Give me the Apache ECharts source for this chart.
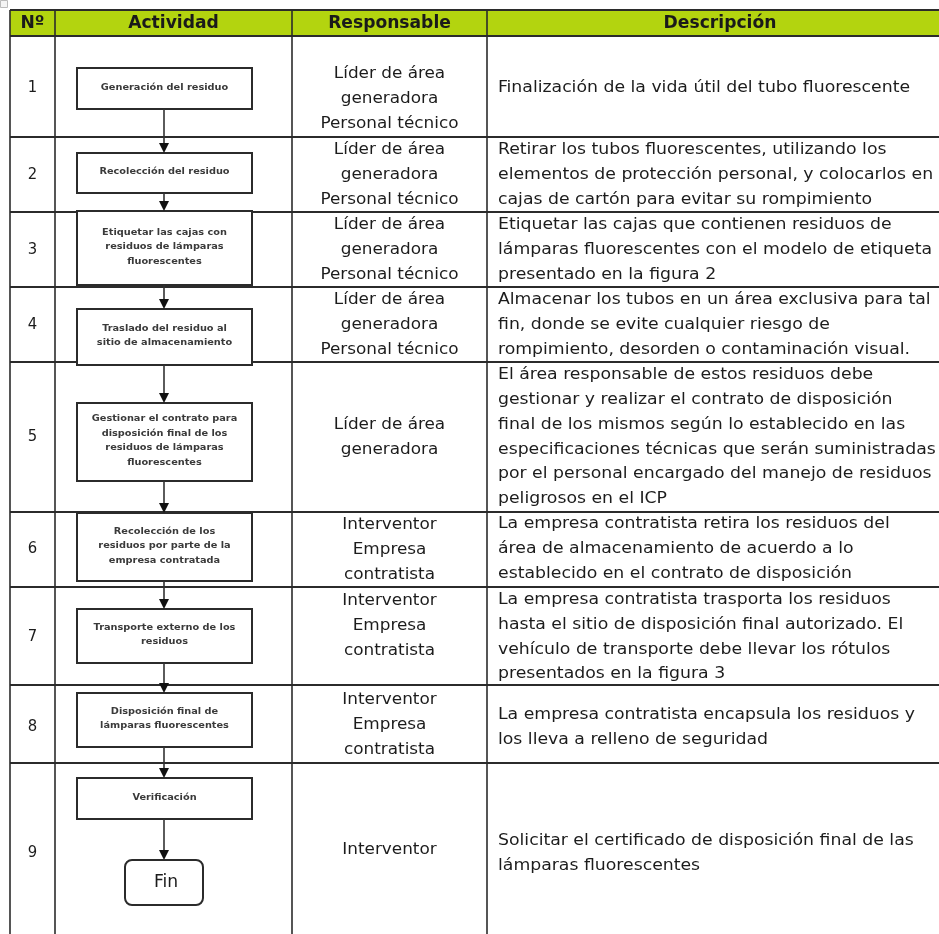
<!DOCTYPE html>
<html><head><meta charset="utf-8">
<script src="https://cdn.jsdelivr.net/npm/echarts@6/dist/echarts.min.js"></script>
<style>html,body{margin:0;padding:0;background:#fff}#c{width:939px;height:934px}</style>
</head><body><div id="c"></div>
<script>
// ---- data ----
const headers = ['Nº', 'Actividad', 'Responsable', 'Descripción'];
const numbers = ['1','2','3','4','5','6','7','8','9'];
const activities = [
  'Generación del residuo',
  'Recolección del residuo',
  'Etiquetar las cajas con\nresiduos de lámparas\nfluorescentes',
  'Traslado del residuo al\nsitio de almacenamiento',
  'Gestionar el contrato para\ndisposición final de los\nresiduos de lámparas\nfluorescentes',
  'Recolección de los\nresiduos por parte de la\nempresa contratada',
  'Transporte externo de los\nresiduos',
  'Disposición final de\nlámparas fluorescentes',
  'Verificación'
];
const endLabel = 'Fin';
const responsables = [
  'Líder de área\ngeneradora\nPersonal técnico',
  'Líder de área\ngeneradora\nPersonal técnico',
  'Líder de área\ngeneradora\nPersonal técnico',
  'Líder de área\ngeneradora\nPersonal técnico',
  'Líder de área\ngeneradora',
  'Interventor\nEmpresa\ncontratista',
  'Interventor\nEmpresa\ncontratista',
  'Interventor\nEmpresa\ncontratista',
  'Interventor'
];
const descriptions = [
  'Finalización de la vida útil del tubo fluorescente',
  'Retirar los tubos fluorescentes, utilizando los\nelementos de protección personal, y colocarlos en\ncajas de cartón para evitar su rompimiento',
  'Etiquetar las cajas que contienen residuos de\nlámparas fluorescentes con el modelo de etiqueta\npresentado en la figura 2',
  'Almacenar los tubos en un área exclusiva para tal\nfin, donde se evite cualquier riesgo de\nrompimiento, desorden o contaminación visual.',
  'El área responsable de estos residuos debe\ngestionar y realizar el contrato de disposición\nfinal de los mismos según lo establecido en las\nespecificaciones técnicas que serán suministradas\npor el personal encargado del manejo de residuos\npeligrosos en el ICP',
  'La empresa contratista retira los residuos del\nárea de almacenamiento de acuerdo a lo\nestablecido en el contrato de disposición',
  'La empresa contratista trasporta los residuos\nhasta el sitio de disposición final autorizado. El\nvehículo de transporte debe llevar los rótulos\npresentados en la figura 3',
  'La empresa contratista encapsula los residuos y\nlos lleva a relleno de seguridad',
  'Solicitar el certificado de disposición final de las\nlámparas fluorescentes'
];

// ---- layout ----
const colX = [10, 55, 292, 487, 953];
const rowY = [10, 36, 137, 212, 287, 362, 512, 587, 685, 763, 942];
const respCY = [99, 175, 250, 325, 437, 550, 626, 725, 850];
const descCY = [88, 175, 250, 325, 437, 549, 637, 727, 853];
const boxX = [77, 252];
const boxY = [[68,109],[153,193],[211,285],[309,365],[403,481],[513,581],[609,663],[693,747],[778,819]];
const finBox = [125, 860, 203, 905];
const arrowX = 164;

const FONT = "'DejaVu Sans Condensed','DejaVu Sans',Verdana,sans-serif";
const LINE = '#2b2b2b';
const TXT = '#1c1c1c';
const G = [];

function txt(x, y, sx, style, z){
  G.push({type:'text', z:z||5, x:x, y:y, scaleX:sx, style:Object.assign({x:0, y:0, fontFamily:FONT, fill:TXT, verticalAlign:'middle'}, style)});
}

// header background
G.push({type:'rect', shape:{x:colX[0], y:rowY[0], width:940-colX[0], height:rowY[1]-rowY[0]}, style:{fill:'#b3d40f'}, z:1});
for (let c=0;c<4;c++){
  txt((colX[c]+colX[c+1])/2, (rowY[0]+rowY[1])/2+1, 1.12, {text:headers[c], fill:'#1a1a1a', fontWeight:'bold', fontSize:17, align:'center'});
}
// horizontal lines
for (let r=0;r<rowY.length-1;r++){
  G.push({type:'line', z:4, shape:{x1:colX[0], y1:rowY[r], x2:940, y2:rowY[r]}, style:{stroke:LINE, lineWidth:2}});
}
// vertical lines
for (let c=0;c<4;c++){
  G.push({type:'line', z:4, shape:{x1:colX[c], y1:rowY[0], x2:colX[c], y2:934}, style:{stroke:LINE, lineWidth:1.6}});
}
// rows
for (let i=0;i<numbers.length;i++){
  txt((colX[0]+colX[1])/2, descCY[i], 1.1, {text:numbers[i], fontSize:15, align:'center'});
  txt((colX[2]+colX[3])/2, respCY[i], 1.17, {text:responsables[i], fontSize:16, lineHeight:25, align:'center'});
  txt(colX[3]+11, descCY[i], 1.2, {text:descriptions[i], fontSize:16, lineHeight:24.7, align:'left'});
  const b = boxY[i];
  G.push({type:'rect', z:5, shape:{x:boxX[0], y:b[0], width:boxX[1]-boxX[0], height:b[1]-b[0]},
    style:{fill:'#fff', stroke:LINE, lineWidth:2}});
  txt((boxX[0]+boxX[1])/2, (b[0]+b[1])/2 - 1, 1.22, {text:activities[i], fill:'#3a3a3a',
    fontFamily:"'DejaVu Sans',Verdana,sans-serif", fontWeight:'bold', fontSize:8, lineHeight:14.5, align:'center'}, 6);
}
// arrows
function arrow(y1, y2){
  G.push({type:'line', z:5, shape:{x1:arrowX, y1:y1, x2:arrowX, y2:y2-9}, style:{stroke:'#333', lineWidth:1.6}});
  G.push({type:'polygon', z:5, shape:{points:[[arrowX-5,y2-10],[arrowX+5,y2-10],[arrowX,y2]]}, style:{fill:'#111'}});
}
for (let i=0;i<boxY.length-1;i++) arrow(boxY[i][1], boxY[i+1][0]);
arrow(boxY[boxY.length-1][1], finBox[1]);
// Fin
G.push({type:'rect', z:5, shape:{x:finBox[0], y:finBox[1], width:finBox[2]-finBox[0], height:finBox[3]-finBox[1], r:7},
  style:{fill:'#fff', stroke:LINE, lineWidth:2}});
txt((finBox[0]+finBox[2])/2 + 2, (finBox[1]+finBox[3])/2, 1.12, {text:endLabel, fontSize:17, align:'center'}, 6);
// tiny icon top-left
G.push({type:'rect', z:5, shape:{x:0.5, y:0.5, width:7, height:7}, style:{fill:'#f4f4f4', stroke:'#bbb', lineWidth:1}});

const chart = echarts.init(document.getElementById('c'), null, {renderer:'canvas'});
chart.setOption({backgroundColor:'#fff', animation:false, graphic:{elements:G}});
</script></body></html>
